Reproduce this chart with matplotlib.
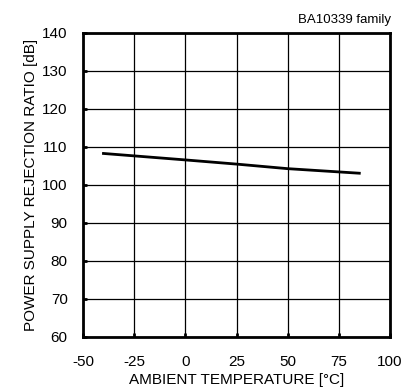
import matplotlib
matplotlib.use("Agg")
import matplotlib.pyplot as plt

temps = [-40, 0, 25, 50, 85]
psrr = [108.3, 106.6, 105.5, 104.3, 103.1]
xticks = [-50, -25, 0, 25, 50, 75, 100]
yticks = [60, 70, 80, 90, 100, 110, 120, 130, 140]

plt.rcParams['font.family'] = ['Liberation Sans', 'DejaVu Sans']
plt.rcParams['axes.unicode_minus'] = False
fig = plt.figure(figsize=(4.11, 3.87), dpi=100)
ax = fig.add_axes([83/411, 1-337/387, 307/411, 304/387])
ax.plot(temps, psrr, color='black', lw=2)
ax.set_xlim(-50, 100)
ax.set_ylim(60, 140)
ax.set_xticks(xticks)
ax.set_xticklabels([str(v) for v in xticks])
ax.set_yticks(yticks)
ax.grid(True, color='black', lw=0.9)
for s in ax.spines.values():
    s.set_linewidth(2)
ax.tick_params(direction='in', length=3, width=2, labelsize=11)
ax.tick_params(axis='x', pad=13)
ax.tick_params(axis='y', pad=11)
ax.set_xlabel('AMBIENT TEMPERATURE [°C]', fontsize=11, labelpad=3)
ax.set_ylabel('POWER SUPPLY REJECTION RATIO [dB]', fontsize=11, labelpad=3)
fig.text(391/411, 1-20/387, 'BA10339 family', ha='right', va='center', fontsize=9.5)
fig.savefig('out.png', dpi=100)
